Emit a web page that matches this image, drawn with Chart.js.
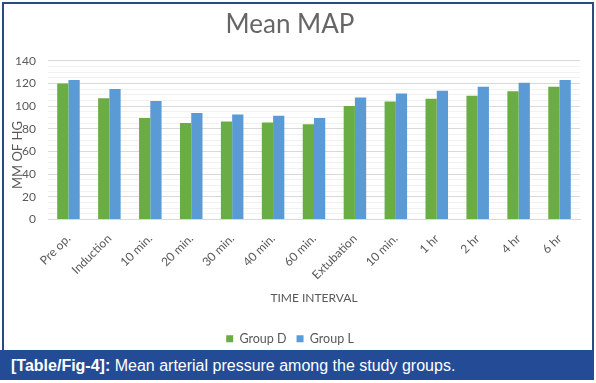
<!DOCTYPE html>
<html>
<head>
<meta charset="utf-8">
<script src="https://cdn.jsdelivr.net/npm/chart.js@4/dist/chart.umd.min.js"></script>
<style>
  html, body { margin: 0; padding: 0; background: #fff; }
  #wrap { position: relative; width: 596px; height: 383px; overflow: hidden; }
  #c { position: absolute; left: 0; top: 0; }
  #frame { position: absolute; left: 2px; top: 2px; width: 592px; height: 350px; box-sizing: border-box;
           border: 2px solid #2c4a7e; pointer-events: none; }
  #cap { position: absolute; left: 0; top: 350px; width: 594px; height: 30px; background: #244b96;
         color: #fff; font-family: "Liberation Sans", Arial, sans-serif; font-size: 16px; line-height: 31px;
         padding-left: 11px; box-sizing: border-box; white-space: nowrap; }
  #cap b { font-weight: bold; }
</style>
</head>
<body>
<div id="wrap">
  <canvas id="c" width="596" height="383"></canvas>
  <div id="frame"></div>
  <div id="cap"><b>[Table/Fig-4]:</b> Mean arterial pressure among the study groups.</div>
</div>
<script>
const categories = ['Pre op.', 'Induction', '10 min.', '20 min.', '30 min.', '40 min.', '60 min.',
                    'Extubation', '10 min.', '1 hr', '2 hr', '4 hr', '6 hr'];
const groupD = [120, 107, 89.5, 85, 86.5, 85.5, 84, 100, 104, 106.5, 109, 113, 117];
const groupL = [123, 115, 104.5, 94, 92.5, 91.5, 89.5, 107.5, 111, 113.5, 117, 120.5, 123];
const yMin = 0, yMax = 140, yMajor = 20, yMinor = 5;
const yTitle = 'MM OF HG';

const txt = '#595959';
const font = 'Lato, "Open Sans", sans-serif';

// y-axis title drawn slightly below the axis centre, overlapping tick labels like the original
const yTitlePlugin = {
  id: 'yTitle',
  afterDraw(chart) {
    const y = chart.scales.y;
    const ctx = chart.ctx;
    ctx.save();
    ctx.translate(y.left + 18, (y.top + y.bottom) / 2 + 15);
    ctx.rotate(-Math.PI / 2);
    ctx.fillStyle = txt;
    ctx.font = '13px ' + font;
    ctx.textAlign = 'center';
    ctx.textBaseline = 'middle';
    ctx.fillText(yTitle, 0, 0);
    ctx.restore();
  }
};

new Chart(document.getElementById('c'), {
  type: 'bar',
  data: {
    labels: categories,
    datasets: [
      { label: 'Group D', data: groupD, backgroundColor: '#6aad45', borderWidth: 0,
        categoryPercentage: 0.55, barPercentage: 1.0 },
      { label: 'Group L', data: groupL, backgroundColor: '#5b9bd5', borderWidth: 0,
        categoryPercentage: 0.55, barPercentage: 1.0 }
    ]
  },
  plugins: [yTitlePlugin],
  options: {
    responsive: false,
    animation: false,
    devicePixelRatio: 1,
    layout: { padding: { left: 0, right: 16, top: 0, bottom: 28 } },
    plugins: {
      title: {
        display: true, text: 'Mean MAP', color: '#666666',
        font: { family: font, size: 26, weight: 'normal' },
        padding: { top: 9, bottom: 20.5 }
      },
      legend: {
        position: 'bottom',
        labels: { color: txt, font: { family: font, size: 12.5 }, boxWidth: 7, boxHeight: 7, padding: 10 }
      },
      tooltip: { enabled: false }
    },
    scales: {
      x: {
        grid: { display: false },
        border: { display: true, color: '#d9d9d9' },
        ticks: { color: txt, font: { family: font, size: 12 }, minRotation: 45, maxRotation: 45, autoSkip: false, padding: 4 },
        title: { display: true, text: 'TIME INTERVAL', color: txt, font: { family: font, size: 12 },
                 padding: { top: 4, bottom: 17 } },
        afterFit: (s) => { s.height = 103; }
      },
      y: {
        min: yMin, max: yMax,
        border: { display: false },
        grid: {
          drawTicks: false,
          color: (ctx) => (ctx.tick && ctx.tick.value % yMajor === 0) ? '#d9d9d9' : '#f1f1f1'
        },
        ticks: {
          stepSize: yMinor, autoSkip: false, color: txt, font: { family: font, size: 12 }, padding: 12,
          callback: (v) => (v % yMajor === 0 ? v : '')
        },
        afterFit: (s) => { s.width = 48; }
      }
    }
  }
});
</script>
</body>
</html>
